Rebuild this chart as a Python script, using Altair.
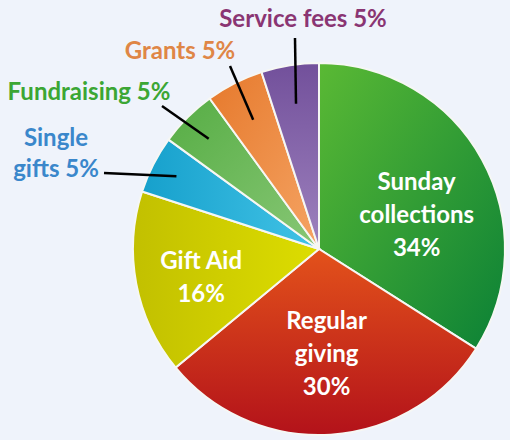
import altair as alt
import pandas as pd
import math

# ---- data ----
categories = ["Sunday collections", "Regular giving", "Gift Aid", "Single gifts",
              "Fundraising", "Grants", "Service fees"]
values = [34, 30, 16, 5, 5, 5, 5]
labels = ["Sunday\ncollections\n34%", "Regular\ngiving\n30%", "Gift Aid\n16%",
          "Single\ngifts 5%", "Fundraising 5%", "Grants 5%", "Service fees 5%"]

# ---- layout / style ----
W, H = 510, 440
R = 186
PAD = {"left": 133, "top": 63, "right": 5, "bottom": 5}
FONT = "Lato"
FS = 24
BG = "#eff3fb"

gradients = {
    "Sunday collections": ("#5ab934", "#0b8136", 0, 0, 1, 1),
    "Regular giving": ("#e3521b", "#b3121a", 0.5, 0, 0.5, 1),
    "Gift Aid": ("#c2c000", "#dddd00", 0, 0.5, 1, 0.5),
    "Single gifts": ("#16a0cc", "#42c3e6", 0, 0.5, 1, 0.5),
    "Fundraising": ("#56ad44", "#88c776", 0, 0, 1, 1),
    "Grants": ("#e6792c", "#f5a464", 0, 0, 1, 1),
    "Service fees": ("#72509b", "#9e82be", 0.5, 0, 0.5, 1),
}
inner_style = {  # radius, dx, dy (dy positions the first line)
    "Sunday collections": (108, 3, -14),
    "Regular giving": (105, 1, -32),
    "Gift Aid": (120, 0, -9),
}
outer_style = {  # text x, first-line y (page px), text colour, line outer end x, y, line inner radius
    "Single gifts": (56, 139, "#3a87cb", 104, 173, 160),
    "Fundraising": (89, 93, "#3ba634", 162, 106, 156),
    "Grants": (180, 52, "#df8646", 230, 66, 145),
    "Service fees": (303, 20, "#8a3573", 295, 38, 147),
}

df = pd.DataFrame({"category": categories, "value": values, "label": labels})
df["end"] = df["value"].cumsum()
df["start"] = df["end"] - df["value"]
df["mid"] = (df["start"] + df["end"]) / 2

theta_scale = alt.Scale(domain=[0, 100], range=[0, 2 * math.pi])

layers = []
for cat in categories:
    c0, c1, x1, y1, x2, y2 = gradients[cat]
    grad = alt.Gradient(gradient="linear",
                        stops=[alt.GradientStop(color=c0, offset=0),
                               alt.GradientStop(color=c1, offset=1)],
                        x1=x1, y1=y1, x2=x2, y2=y2)
    layers.append(
        alt.Chart(df).transform_filter(alt.datum.category == cat)
        .mark_arc(fill=grad, stroke="#f6f7f4", strokeWidth=2, radius=R)
        .encode(theta=alt.Theta("start:Q", scale=theta_scale, stack=None),
                theta2="end:Q")
    )

for cat, (r, dx, dy) in inner_style.items():
    layers.append(
        alt.Chart(df).transform_filter(alt.datum.category == cat)
        .mark_text(radius=r, dx=dx, dy=dy, font=FONT, fontSize=FS, fontWeight="bold",
                   color="white", lineBreak="\n", lineHeight=33,
                   align="center", baseline="middle")
        .encode(theta=alt.Theta("mid:Q", scale=theta_scale, stack=None),
                text="label:N")
    )

# leader lines and outside labels
rows = []
for cat, (tx, ty, col, lx, ly, rin) in outer_style.items():
    m = float(df.loc[df.category == cat, "mid"].iloc[0]) / 100 * 2 * math.pi
    cx, cy = R, R
    rows.append({
        "category": cat,
        "label": df.loc[df.category == cat, "label"].iloc[0],
        "tx": tx - PAD["left"], "ty": ty - PAD["top"],
        "lx": lx - PAD["left"], "ly": ly - PAD["top"],
        "ix": cx + rin * math.sin(m), "iy": cy - rin * math.cos(m),
        "color": col,
    })
ol = pd.DataFrame(rows)

rules = alt.Chart(ol).mark_rule(color="black", strokeWidth=2.5).encode(
    x=alt.X("ix:Q", scale=None), y=alt.Y("iy:Q", scale=None),
    x2="lx:Q", y2="ly:Q")
otext = alt.Chart(ol).mark_text(font=FONT, fontSize=FS, fontWeight="bold",
                                lineBreak="\n", lineHeight=31,
                                align="center", baseline="middle").encode(
    x=alt.X("tx:Q", scale=None), y=alt.Y("ty:Q", scale=None),
    text="label:N", color=alt.Color("color:N", scale=None))
layers += [rules, otext]

chart = alt.layer(*layers).properties(
    width=2 * R, height=2 * R, padding=PAD, background=BG,
    autosize=alt.AutoSizeParams(type="none"),
).configure_view(stroke=None)

chart.save("out.html", embed_options={"renderer": "svg", "actions": False})
